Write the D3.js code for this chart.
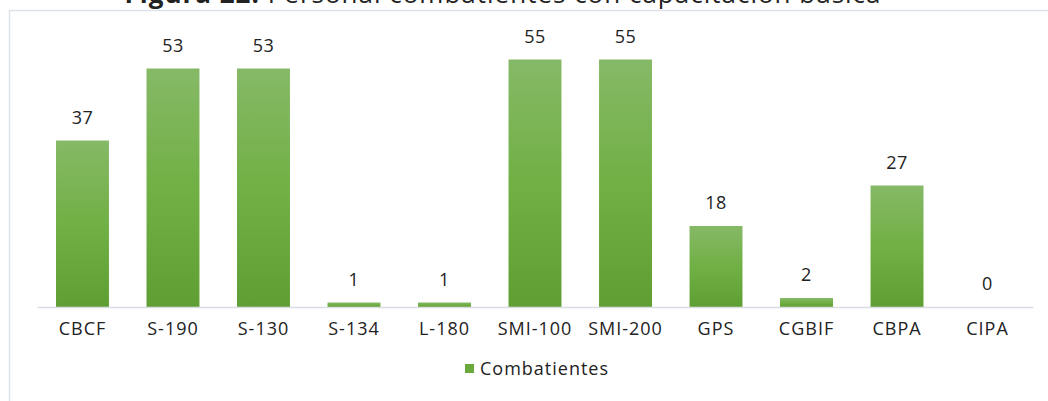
<!DOCTYPE html>
<html>
<head>
<meta charset="utf-8">
<script src="https://cdn.jsdelivr.net/npm/d3@7"></script>
<style>
  body { margin: 0; background: #fff; }
  svg text { font-family: "Open Sans", "DejaVu Sans", sans-serif; fill: #222; }
</style>
</head>
<body>
<svg width="1048" height="401"></svg>
<script>
// data
var categories = ["CBCF", "S-190", "S-130", "S-134", "L-180", "SMI-100", "SMI-200", "GPS", "CGBIF", "CBPA", "CIPA"];
var values = [37, 53, 53, 1, 1, 55, 55, 18, 2, 27, 0];
var seriesName = "Combatientes";

var svg = d3.select("svg");

// frame of the chart area
svg.append("rect")
    .attr("x", 9.5).attr("y", 10.5)
    .attr("width", 1060).attr("height", 420)
    .attr("fill", "none")
    .attr("stroke", "#dde2ea")
    .attr("stroke-width", 1.5);

// title (cut off at the top, as in the reference)
var title = svg.append("text")
    .attr("x", 503).attr("y", 3)
    .attr("text-anchor", "middle")
    .style("font-size", "26px")
    .style("letter-spacing", "1px");
title.append("tspan").style("font-weight", "bold").text("Figura 22. ");
title.append("tspan").text("Personal combatientes con capacitación básica");

var defs = svg.append("defs");
var grad = defs.append("linearGradient")
    .attr("id", "barGrad")
    .attr("x1", 0).attr("y1", 0).attr("x2", 0).attr("y2", 1);
grad.append("stop").attr("offset", "0%").attr("stop-color", "#86b967");
grad.append("stop").attr("offset", "50%").attr("stop-color", "#70b044");
grad.append("stop").attr("offset", "100%").attr("stop-color", "#5f9e33");

var x = d3.scaleBand()
    .domain(categories)
    .range([37, 1033])
    .paddingInner(0.415)
    .paddingOuter(0.21);

var y = d3.scaleLinear()
    .domain([0, 60])
    .range([307, 37]);

// bars
svg.selectAll(".bar")
    .data(values)
    .enter().append("rect")
    .attr("class", "bar")
    .attr("x", (d, i) => x(categories[i]))
    .attr("y", d => y(d))
    .attr("width", x.bandwidth())
    .attr("height", d => y(0) - y(d))
    .attr("fill", "url(#barGrad)");

// value labels
svg.selectAll(".val")
    .data(values)
    .enter().append("text")
    .attr("class", "val")
    .attr("x", (d, i) => x(categories[i]) + x.bandwidth() / 2)
    .attr("y", d => y(d) - 17)
    .attr("text-anchor", "middle")
    .style("font-size", "18px")
    .style("letter-spacing", "0.5px")
    .text(d => d);

// x axis
var xAxis = svg.append("g")
    .attr("transform", "translate(0,307)")
    .call(d3.axisBottom(x).tickSize(0).tickPadding(15));
xAxis.select(".domain").attr("stroke", "#d9dde3").attr("stroke-width", 1.5);
xAxis.selectAll("text")
    .style("font-size", "18px")
    .style("letter-spacing", "1px")
    .style("font-family", "'Open Sans', 'DejaVu Sans', sans-serif")
    .attr("fill", "#222");

// legend
var legend = svg.append("g").attr("transform", "translate(465,364)");
legend.append("rect")
    .attr("width", 9).attr("height", 9)
    .attr("fill", "#6aaa3d");
legend.append("text")
    .attr("x", 15).attr("y", 11)
    .style("font-size", "18px")
    .style("letter-spacing", "1px")
    .text(seriesName);
</script>
</body>
</html>
